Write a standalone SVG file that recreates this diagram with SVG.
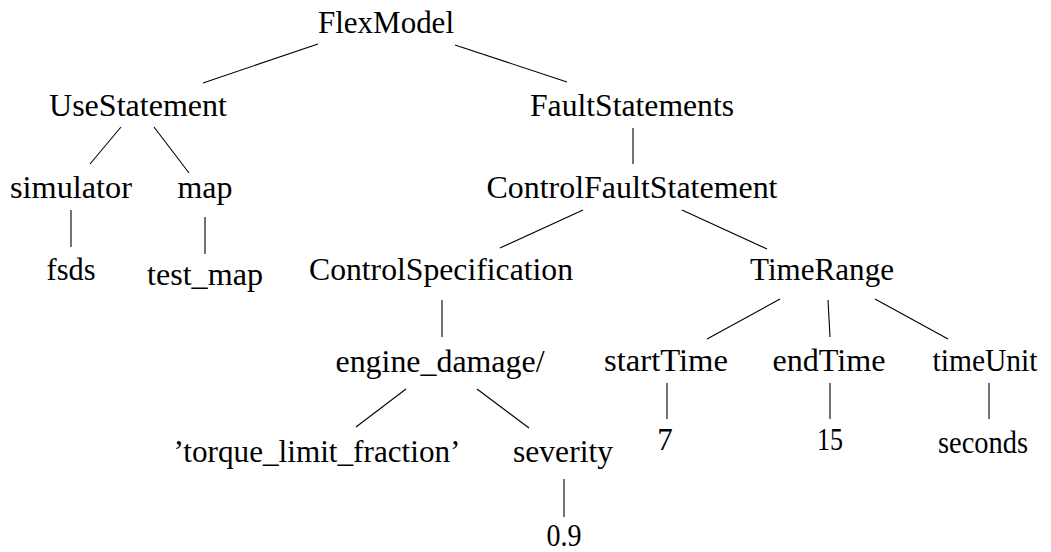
<svg xmlns="http://www.w3.org/2000/svg" width="1051" height="552" viewBox="0 0 1051 552">
  <style>
    .lbl { font-family: "Liberation Serif", "Times New Roman", serif; font-size: 31px; fill: #000; text-anchor: middle; }
    .edge { stroke: #000; stroke-width: 1.1; fill: none; }
  </style>
  <rect width="1051" height="552" fill="#fff"/>

  <!-- tree edges -->
  <g id="edges">
    <line class="edge" x1="318" y1="44" x2="203" y2="83"/>
    <line class="edge" x1="455" y1="45" x2="567" y2="82"/>
    <line class="edge" x1="121" y1="127" x2="90" y2="164"/>
    <line class="edge" x1="154" y1="127" x2="189" y2="173"/>
    <line class="edge" x1="71" y1="210" x2="71" y2="247"/>
    <line class="edge" x1="205" y1="217" x2="205" y2="254"/>
    <line class="edge" x1="633" y1="128" x2="633" y2="164"/>
    <line class="edge" x1="583" y1="210" x2="500" y2="248"/>
    <line class="edge" x1="682" y1="210" x2="767" y2="249"/>
    <line class="edge" x1="442" y1="300" x2="442" y2="337"/>
    <line class="edge" x1="406" y1="389" x2="356" y2="427"/>
    <line class="edge" x1="477" y1="389" x2="529" y2="428"/>
    <line class="edge" x1="564" y1="479" x2="564" y2="517"/>
    <line class="edge" x1="780" y1="299" x2="707" y2="339"/>
    <line class="edge" x1="828" y1="300" x2="830" y2="337"/>
    <line class="edge" x1="875" y1="299" x2="948" y2="339"/>
    <line class="edge" x1="667" y1="383" x2="667" y2="419"/>
    <line class="edge" x1="830" y1="383" x2="830" y2="419"/>
    <line class="edge" x1="989" y1="383" x2="989" y2="419"/>
  </g>

  <!-- tree nodes -->
  <g id="n-flexmodel"><text class="lbl" x="386" y="33" textLength="136" lengthAdjust="spacingAndGlyphs">FlexModel</text></g>
  <g id="n-usestatement"><text class="lbl" x="138" y="116" textLength="178" lengthAdjust="spacingAndGlyphs">UseStatement</text></g>
  <g id="n-faultstatements"><text class="lbl" x="632" y="116" textLength="204" lengthAdjust="spacingAndGlyphs">FaultStatements</text></g>
  <g id="n-simulator"><text class="lbl" x="71" y="198" textLength="122" lengthAdjust="spacingAndGlyphs">simulator</text></g>
  <g id="n-map"><text class="lbl" x="205" y="198" textLength="55" lengthAdjust="spacingAndGlyphs">map</text></g>
  <g id="n-fsds"><text class="lbl" x="71" y="280" textLength="49" lengthAdjust="spacingAndGlyphs">fsds</text></g>
  <g id="n-test-map"><text class="lbl" x="205" y="285" textLength="116" lengthAdjust="spacingAndGlyphs">test_map</text></g>
  <g id="n-controlfaultstatement"><text class="lbl" x="632" y="198" textLength="291" lengthAdjust="spacingAndGlyphs">ControlFaultStatement</text></g>
  <g id="n-controlspecification"><text class="lbl" x="441" y="280" textLength="264" lengthAdjust="spacingAndGlyphs">ControlSpecification</text></g>
  <g id="n-timerange"><text class="lbl" x="822" y="280" textLength="144" lengthAdjust="spacingAndGlyphs">TimeRange</text></g>
  <g id="n-engine-damage"><text class="lbl" x="440" y="372" textLength="209" lengthAdjust="spacingAndGlyphs">engine_damage/</text></g>
  <g id="n-torque"><text class="lbl" x="317" y="462" textLength="287" lengthAdjust="spacingAndGlyphs">’torque_limit_fraction’</text></g>
  <g id="n-severity"><text class="lbl" x="563" y="462" textLength="100" lengthAdjust="spacingAndGlyphs">severity</text></g>
  <g id="n-severity-value"><text class="lbl" x="564" y="546" textLength="35" lengthAdjust="spacingAndGlyphs">0.9</text></g>
  <g id="n-starttime"><text class="lbl" x="666" y="371" textLength="124" lengthAdjust="spacingAndGlyphs">startTime</text></g>
  <g id="n-endtime"><text class="lbl" x="829" y="371" textLength="113" lengthAdjust="spacingAndGlyphs">endTime</text></g>
  <g id="n-timeunit"><text class="lbl" x="985" y="371" textLength="105" lengthAdjust="spacingAndGlyphs">timeUnit</text></g>
  <g id="n-start-value"><text class="lbl" x="665" y="450">7</text></g>
  <g id="n-end-value"><text class="lbl" x="830" y="450" textLength="26" lengthAdjust="spacingAndGlyphs">15</text></g>
  <g id="n-unit-value"><text class="lbl" x="983" y="453" textLength="90" lengthAdjust="spacingAndGlyphs">seconds</text></g>
</svg>
